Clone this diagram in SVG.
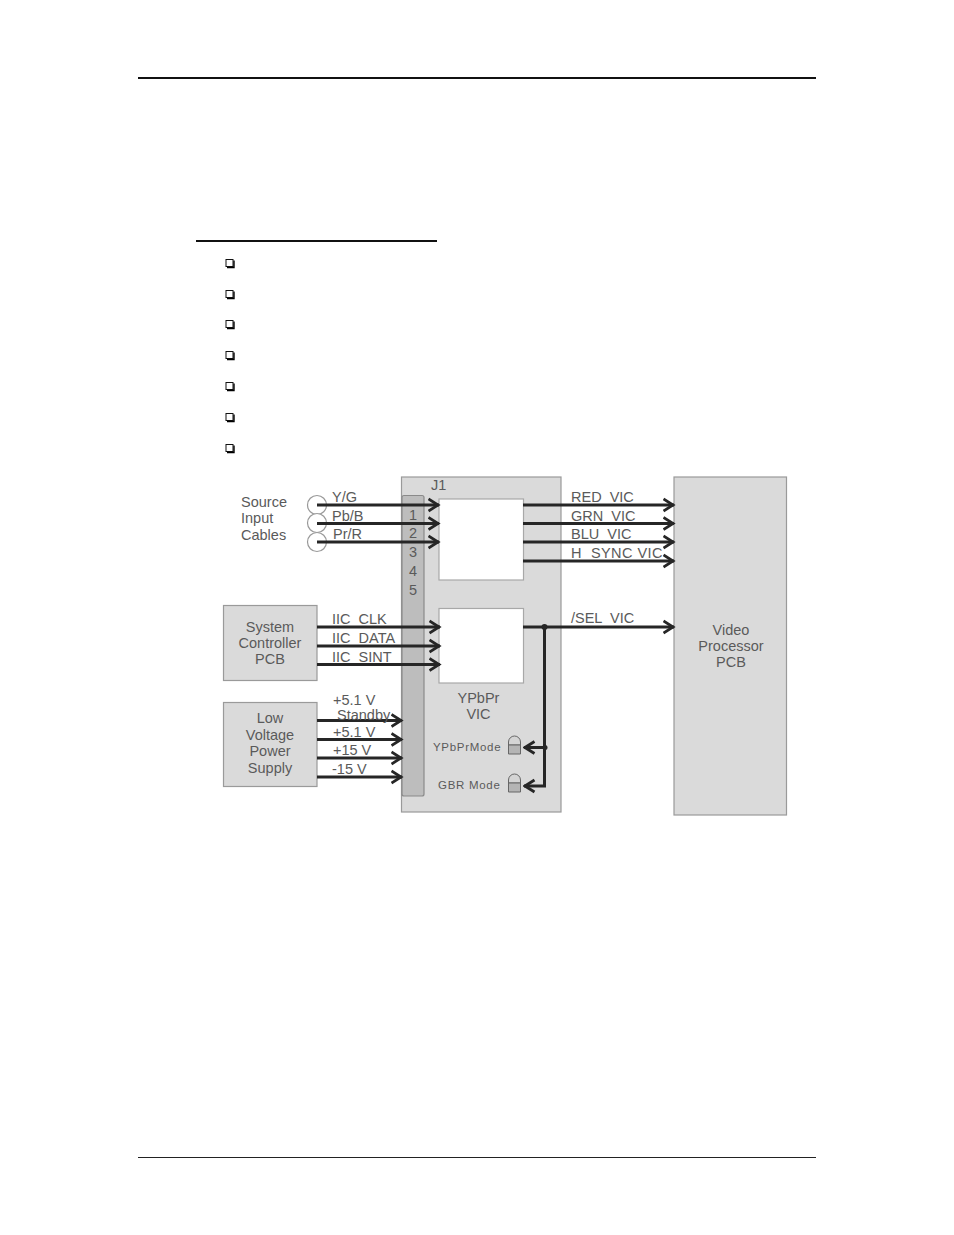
<svg xmlns="http://www.w3.org/2000/svg" width="954" height="1235" viewBox="0 0 954 1235">
<defs>
<marker id="arr" markerUnits="userSpaceOnUse" markerWidth="13" markerHeight="16" refX="11.500" refY="8" orient="auto"><path d="M1 2 L10.500 8 L1 14" fill="none" stroke="#262626" stroke-width="2.800"/></marker>
<g id="lamp"><path d="M-6 -1 V-4 A6 6 0 0 1 6 -4 V-1 Z" fill="#d4d4d4" stroke="#666" stroke-width="1"/><path d="M-6 -1 H6 V8 H-6 Z" fill="#b4b4b4" stroke="#666" stroke-width="1"/></g>
<g id="bul"><rect x="0" y="0" width="7" height="7" fill="#fff" stroke="#111" stroke-width="1"/><path d="M8 1 V8 H1" fill="none" stroke="#000" stroke-width="1.400"/></g>
</defs>
<style>
text{font-family:"Liberation Sans",Arial,sans-serif;font-size:14.500px;fill:#5a5a5a}
.box{fill:#dadada;stroke:#9a9a9a;stroke-width:1.200}
.wb{fill:#fff;stroke:#a8a8a8;stroke-width:1.200}
.c{text-anchor:middle}
.w{stroke:#262626;stroke-width:3;fill:none}
.a{marker-end:url(#arr)}
.s{font-size:11.500px;letter-spacing:.7px}
</style>
<rect width="954" height="1235" fill="#fff"/>
<g id="page">
<rect x="138" y="77" width="678" height="2" fill="#111"/>
<rect x="138" y="1157" width="678" height="1" fill="#222"/>
<rect x="196" y="240" width="241" height="2" fill="#111"/>
<use href="#bul" x="226" y="259.500"/><use href="#bul" x="226" y="290.500"/><use href="#bul" x="226" y="320.500"/><use href="#bul" x="226" y="351.500"/><use href="#bul" x="226" y="382.500"/><use href="#bul" x="226" y="413.500"/><use href="#bul" x="226" y="444.500"/>
</g>
<g id="vic"><rect class="box" x="401.500" y="477" width="159.500" height="335"/><text x="431" y="490">J1</text></g>
<g id="j1"><rect x="402" y="495.500" width="22" height="300.500" rx="2" fill="#bdbdbd" stroke="#8a8a8a" stroke-width="1.200"/>
<text class="c" x="413" y="520">1</text><text class="c" x="413" y="538">2</text><text class="c" x="413" y="557">3</text><text class="c" x="413" y="576">4</text><text class="c" x="413" y="595">5</text></g>
<g id="mux"><rect class="wb" x="439" y="499" width="84.500" height="81"/></g>
<g id="ctrl"><rect class="wb" x="439" y="608.500" width="84.500" height="74.500"/></g>
<g id="ypbpr-label"><text class="c" x="478.500" y="703">YPbPr</text><text class="c" x="478.500" y="719">VIC</text></g>
<g id="sources"><circle cx="317" cy="505" r="9.500" fill="#fff" stroke="#999" stroke-width="1.200"/><circle cx="317" cy="523" r="9.500" fill="#fff" stroke="#999" stroke-width="1.200"/><circle cx="317" cy="542" r="9.500" fill="#fff" stroke="#999" stroke-width="1.200"/>
<text x="241" y="507">Source</text><text x="241" y="523">Input</text><text x="241" y="540">Cables</text></g>
<g id="syscon"><rect class="box" x="223.500" y="605.500" width="93.500" height="75"/><text class="c" x="270" y="632">System</text><text class="c" x="270" y="648">Controller</text><text class="c" x="270" y="664">PCB</text></g>
<g id="lvps"><rect class="box" x="223.500" y="702.500" width="93.500" height="84"/><text class="c" x="270" y="723">Low</text><text class="c" x="270" y="740">Voltage</text><text class="c" x="270" y="756">Power</text><text class="c" x="270" y="773">Supply</text></g>
<g id="video"><rect class="box" x="674" y="477" width="112.500" height="338"/><text class="c" x="731" y="635">Video</text><text class="c" x="731" y="651">Processor</text><text class="c" x="731" y="667">PCB</text></g>
<g id="led1"><use href="#lamp" x="514.500" y="746"/><text class="s" x="433" y="751">YPbPrMode</text></g>
<g id="led2"><use href="#lamp" x="514.500" y="784"/><text class="s" x="438" y="789">GBR Mode</text></g>
<g id="connectors">
<path class="w a" d="M317 505H439"/><path class="w a" d="M317 523.500H439"/><path class="w a" d="M317 542H439"/>
<path class="w a" d="M317 627H440"/><path class="w a" d="M317 646H440"/><path class="w a" d="M317 664.500H440"/>
<path class="w a" d="M317 720.500H402"/><path class="w a" d="M317 739.500H402"/><path class="w a" d="M317 758H402"/><path class="w a" d="M317 777H402"/>
<path class="w a" d="M523 505H674"/><path class="w a" d="M523 523.500H674"/><path class="w a" d="M523 542H674"/><path class="w a" d="M523 561H674"/>
<path class="w a" d="M523 627H674"/>
<path class="w" d="M544.500 627V787"/><path class="w a" d="M546 747.500H524"/><path class="w a" d="M546 786H524"/>
<circle cx="544.500" cy="627" r="3" fill="#262626"/><circle cx="545" cy="747.500" r="2.500" fill="#262626"/>
</g>
<g id="labels">
<text x="332" y="502">Y/G</text><text x="332" y="521">Pb/B</text><text x="333" y="539">Pr/R</text>
<text x="332" y="624" xml:space="preserve">IIC  CLK</text><text x="332" y="643" xml:space="preserve">IIC  DATA</text><text x="332" y="662" xml:space="preserve">IIC  SINT</text>
<text x="333" y="705">+5.1 V</text><text x="337" y="720">Standby</text><text x="333" y="737">+5.1 V</text><text x="333" y="755">+15 V</text><text x="332" y="774">-15 V</text>
<text x="571" y="502" xml:space="preserve">RED  VIC</text><text x="571" y="521" xml:space="preserve">GRN  VIC</text><text x="571" y="539" xml:space="preserve">BLU  VIC</text><text x="571" y="558" xml:space="preserve" letter-spacing=".45">H  SYNC VIC</text><text x="571" y="623" xml:space="preserve">/SEL  VIC</text>
</g>
</svg>
